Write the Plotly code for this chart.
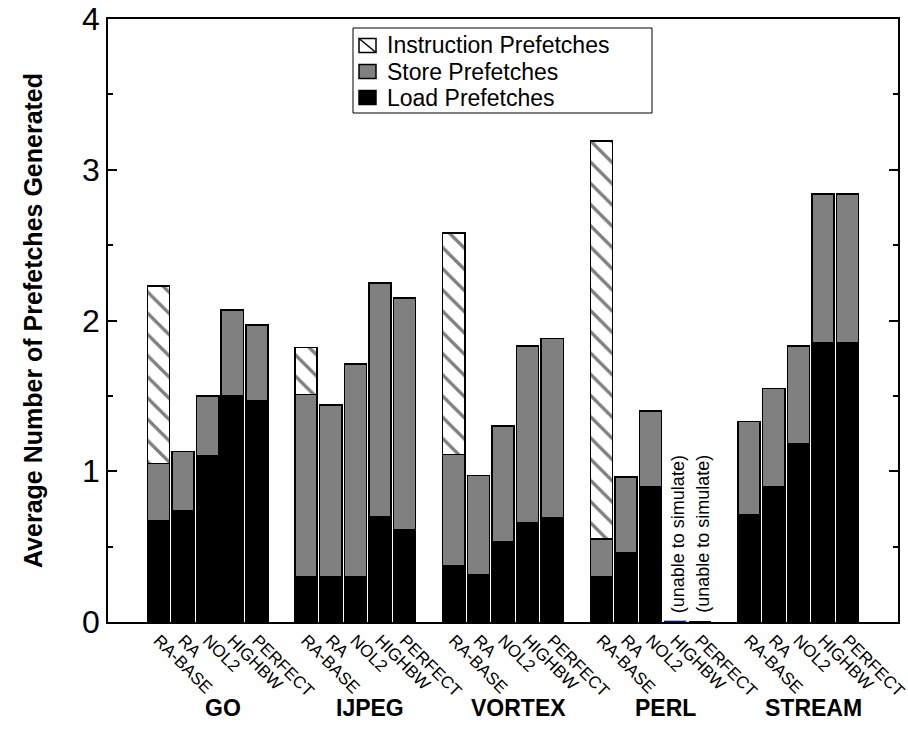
import plotly.graph_objects as go

groups = ["GO", "IJPEG", "VORTEX", "PERL", "STREAM"]
configs = ["RA-BASE", "RA", "NOL2", "HIGHBW", "PERFECT"]
series_names = ["Instruction Prefetches", "Store Prefetches", "Load Prefetches"]

# cumulative heights (top of each stacked segment)
load_top = [
    [0.67, 0.74, 1.10, 1.50, 1.47],
    [0.30, 0.30, 0.30, 0.70, 0.61],
    [0.37, 0.31, 0.53, 0.66, 0.69],
    [0.30, 0.46, 0.90, 0.00, 0.00],
    [0.71, 0.90, 1.18, 1.85, 1.85],
]
store_top = [
    [1.05, 1.13, 1.50, 2.07, 1.97],
    [1.51, 1.44, 1.71, 2.25, 2.15],
    [1.11, 0.97, 1.30, 1.83, 1.88],
    [0.55, 0.96, 1.40, 0.00, 0.00],
    [1.33, 1.55, 1.83, 2.84, 2.84],
]
instr_top = [
    [2.23, 1.13, 1.50, 2.07, 1.97],
    [1.82, 1.44, 1.71, 2.25, 2.15],
    [2.58, 0.97, 1.30, 1.83, 1.88],
    [3.19, 0.96, 1.40, 0.00, 0.00],
    [1.33, 1.55, 1.83, 2.84, 2.84],
]
unable = [("PERL", "HIGHBW"), ("PERL", "PERFECT")]

SLOT = len(configs) + 1
xs, labels, load_v, store_v, instr_v = [], [], [], [], []
for g, grp in enumerate(groups):
    for c, cfg in enumerate(configs):
        xs.append(g * SLOT + c)
        labels.append(cfg)
        load_v.append(load_top[g][c])
        store_v.append(store_top[g][c] - load_top[g][c])
        instr_v.append(instr_top[g][c] - store_top[g][c])

FONT = "Arial"
W = 0.9
line = dict(color="black", width=1.5)
HATCH = dict(shape="\\", fgcolor="black", bgcolor="white", size=15, solidity=0.22)

fig = go.Figure()
fig.add_bar(x=xs, y=load_v, name=series_names[2], width=W,
            marker=dict(color="black", line=line))
fig.add_bar(x=xs, y=store_v, name=series_names[1], width=W,
            marker=dict(color="#808080", line=line))
fig.add_bar(x=xs, y=instr_v, name=series_names[0], width=W,
            marker=dict(color="white", line=line, pattern=HATCH))

# zero-height outline for unsimulated bars + annotations
for grp, cfg in unable:
    xi = groups.index(grp) * SLOT + configs.index(cfg)
    if cfg == "HIGHBW":
        fig.add_trace(go.Scatter(x=[xi - W / 2, xi + W / 2], y=[0, 0], mode="lines",
                                 line=dict(color="blue", width=2.5), showlegend=False,
                                 hoverinfo="skip", cliponaxis=False))
    fig.add_annotation(x=xi, y=0, xref="x", yref="y", text="(unable to simulate)",
                       textangle=-90, showarrow=False, yanchor="bottom", xshift=3, yshift=7,
                       font=dict(family=FONT, size=18, color="black"))

for g, grp in enumerate(groups):
    fig.add_annotation(x=g * SLOT + 2, y=0, xref="x", yref="y", text="<b>%s</b>" % grp,
                       showarrow=False, yshift=-86, xshift=15,
                       font=dict(family=FONT, size=23, color="black"))

# --- hand-drawn legend box (paper coordinates) ---
FIG_W, FIG_H = 908, 748
ML, MR, MT, MB = 108, 10, 19, 126
PW, PH = FIG_W - ML - MR, FIG_H - MT - MB


def px(sx):
    return (sx - ML) / PW


def py(sy):
    return (FIG_H - MB - sy) / PH


fig.add_shape(type="rect", xref="paper", yref="paper", x0=px(353), x1=px(652),
              y0=py(113), y1=py(28), line=dict(color="black", width=1),
              fillcolor="white", layer="above")
row_y = [45.5, 71.5, 97.5]
fills = ["white", "#808080", "black"]
for name, ry, fc in zip(series_names, row_y, fills):
    fig.add_shape(type="rect", xref="paper", yref="paper", x0=px(359), x1=px(376),
                  y0=py(ry + 7), y1=py(ry - 7), line=dict(color="black", width=1.5),
                  fillcolor=fc, layer="above")
    if fc == "white":
        fig.add_shape(type="line", xref="paper", yref="paper", x0=px(359), x1=px(376),
                      y0=py(ry - 7), y1=py(ry + 7), line=dict(color="black", width=1.5),
                      layer="above")
    fig.add_annotation(x=px(385), y=py(ry), xref="paper", yref="paper", text=name,
                       showarrow=False, xanchor="left", yanchor="middle",
                       font=dict(family=FONT, size=23, color="black"))

fig.update_layout(
    barmode="stack",
    width=FIG_W, height=FIG_H,
    margin=dict(l=ML, r=MR, t=MT, b=MB),
    paper_bgcolor="white", plot_bgcolor="white",
    font=dict(family=FONT, color="black"),
    showlegend=False,
    xaxis=dict(range=[-2.05, 4 * SLOT + 4 + 2.05], tickmode="array", tickvals=xs,
               ticktext=labels, tickangle=45, ticks="", showline=True, linecolor="black",
               linewidth=1.5, mirror=True, showgrid=False, zeroline=False, automargin=False,
               ticklabeloverflow="allow",
               tickfont=dict(family=FONT, size=17, color="black")),
    yaxis=dict(range=[-0.0005, 4.0005], tickmode="array", tickvals=[0, 1, 2, 3, 4],
               ticks="inside", ticklen=9, tickwidth=1.5,
               tickcolor="black", showline=True, linecolor="black", linewidth=1.5,
               mirror="ticks", showgrid=False, zeroline=False, automargin=False,
               ticklabeloverflow="allow",
               minor=dict(tickvals=[0.5, 1.5, 2.5, 3.5], ticks="inside", ticklen=5,
                          tickwidth=1.5, tickcolor="black", showgrid=False),
               tickfont=dict(family=FONT, size=32, color="black"),
               title=dict(text="<b>Average Number of Prefetches Generated</b>",
                          font=dict(family=FONT, size=25, color="black"), standoff=32)),
)

fig.write_html("out.html", config={"displayModeBar": False},
               post_script="document.body.style.margin='0';document.body.style.overflow='hidden';")
